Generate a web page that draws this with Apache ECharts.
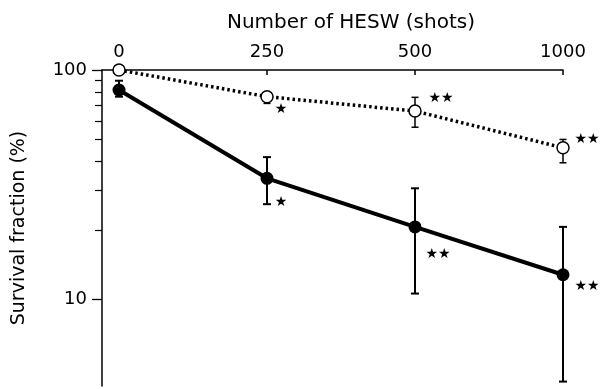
<!DOCTYPE html>
<html>
<head>
<meta charset="utf-8">
<script src="https://cdn.jsdelivr.net/npm/echarts@6/dist/echarts.min.js"></script>
<style>
html,body{margin:0;padding:0;background:#fff;}
#chart{width:604px;height:389px;}
</style>
</head>
<body>
<div id="chart"></div>
<script>
// ---- data ----
var categories = ['0', '250', '500', '1000'];
var openMean  = [100, 76.5, 66.2, 45.8];
var openLow   = [100, 71.5, 56.3, 39.4];
var openHigh  = [100, 78, 76, 49.8];
var openStars = ['', '\u2605', '\u2605\u2605', '\u2605\u2605'];
var filledMean  = [81.8, 33.7, 20.7, 12.8];
var filledLow   = [76.5, 26.0, 10.6, 4.38];
var filledHigh  = [89.8, 41.7, 30.5, 20.7];
var filledStars = ['', '\u2605', '\u2605\u2605', '\u2605\u2605'];
var yMajorTicks = [10, 100];
var yMinorTicks = [20, 30, 40, 50, 60, 70, 80, 90];

// ---- styling (positions of star annotations relative to points) ----
var openStarOffset   = [[0,0],[14,13],[26,-13],[24,-8]];
var filledStarOffset = [[0,0],[14,24],[23,27],[24,12]];

var FONT = 'DejaVu Sans';

function lineData(mean, stars, offsets) {
  return mean.map(function (v, i) {
    return {
      value: [i, v],
      label: {
        show: !!stars[i],
        formatter: stars[i],
        position: 'inside',
        offset: offsets[i],
        color: '#000',
        fontSize: 14,
        fontFamily: FONT
      }
    };
  });
}
function errData(low, high) {
  return low.map(function (l, i) { return [i, l, high[i]]; });
}
function errRender(capW, lw) {
  return function (params, api) {
    var x = api.value(0);
    var lo = api.coord([x, api.value(1)]);
    var hi = api.coord([x, api.value(2)]);
    if (Math.abs(lo[1] - hi[1]) < 0.5) return;
    var st = {stroke: '#000', lineWidth: lw};
    return {
      type: 'group',
      children: [
        {type: 'line', shape: {x1: lo[0], y1: lo[1], x2: hi[0], y2: hi[1]}, style: st},
        {type: 'line', shape: {x1: lo[0] - capW/2, y1: lo[1], x2: lo[0] + capW/2, y2: lo[1]}, style: st},
        {type: 'line', shape: {x1: hi[0] - capW/2, y1: hi[1], x2: hi[0] + capW/2, y2: hi[1]}, style: st}
      ]
    };
  };
}

var chart = echarts.init(document.getElementById('chart'), null, {renderer: 'canvas'});
var option = {
  animation: false,
  backgroundColor: '#fff',
  title: {
    text: 'Number of HESW (shots)',
    left: 346,
    top: 8,
    textAlign: 'center',
    textStyle: {fontFamily: FONT, fontSize: 20, fontWeight: 'normal', color: '#000'}
  },
  grid: {left: 102, top: 70, right: 41, bottom: 3, containLabel: false},
  xAxis: {
    type: 'value',
    position: 'top',
    min: -0.115,
    max: 3,
    splitLine: {show: false},
    axisLine: {show: true, onZero: false, lineStyle: {color: '#000', width: 1.5}},
    axisTick: {show: true, inside: true, length: 5, customValues: [0, 1, 2, 3], lineStyle: {color: '#000', width: 1.5}},
    axisLabel: {
      customValues: [0, 1, 2, 3],
      margin: 9,
      color: '#000',
      fontFamily: FONT,
      fontSize: 18,
      formatter: function (v) { return categories[Math.round(v)]; }
    }
  },
  yAxis: [
    {
      type: 'log',
      logBase: 10,
      min: 4.19,
      max: 100,
      name: 'Survival fraction (%)',
      nameLocation: 'middle',
      nameGap: 73,
      nameTextStyle: {fontFamily: FONT, fontSize: 19, color: '#000'},
      splitLine: {show: false},
      axisLine: {show: true, onZero: false, lineStyle: {color: '#000', width: 1.5}},
      axisTick: {show: true, length: 10, customValues: yMajorTicks, lineStyle: {color: '#000', width: 1.3}},
      axisLabel: {customValues: yMajorTicks, margin: 15, color: '#000', fontFamily: FONT, fontSize: 18}
    },
    {
      type: 'log',
      logBase: 10,
      min: 4.19,
      max: 100,
      position: 'left',
      splitLine: {show: false},
      axisLine: {show: false, onZero: false},
      axisTick: {show: true, length: 7, customValues: yMinorTicks, lineStyle: {color: '#000', width: 1.2}},
      axisLabel: {show: false}
    }
  ],
  series: [
    {
      type: 'custom',
      z: 2,
      clip: false,
      renderItem: errRender(8, 2),
      data: errData(filledLow, filledHigh)
    },
    {
      type: 'custom',
      z: 2,
      clip: false,
      renderItem: errRender(7, 1.5),
      data: errData(openLow, openHigh)
    },
    {
      type: 'line',
      z: 3,
      clip: false,
      data: lineData(openMean, openStars, openStarOffset),
      symbol: 'circle',
      symbolSize: 12,
      showAllSymbol: true,
      lineStyle: {color: '#000', width: 3.5, type: [2.5, 3]},
      itemStyle: {color: '#fff', borderColor: '#000', borderWidth: 1.5}
    },
    {
      type: 'line',
      z: 4,
      clip: false,
      data: lineData(filledMean, filledStars, filledStarOffset),
      symbol: 'circle',
      symbolSize: 13,
      showAllSymbol: true,
      lineStyle: {color: '#000', width: 4},
      itemStyle: {color: '#000', borderColor: '#000', borderWidth: 0}
    }
  ]
};
chart.setOption(option);
</script>
</body>
</html>
